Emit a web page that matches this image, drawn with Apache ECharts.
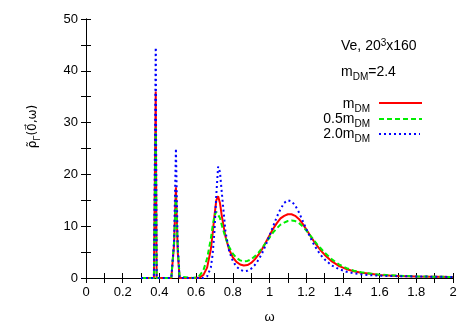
<!DOCTYPE html>
<html>
<head>
<meta charset="utf-8">
<script src="https://cdn.jsdelivr.net/npm/echarts@6/dist/echarts.min.js"></script>
<style>html,body{margin:0;padding:0;background:#fff}#c{width:466px;height:327px}</style>
</head>
<body>
<div id="c"></div>
<script>
// omega grid shared by all series
const omega = [0.30,0.37,0.375,0.38,0.385,0.39,0.465,0.48,0.49,0.50,0.51,0.58,0.60,0.62,0.64,0.66,0.68,0.69,0.70,0.71,0.72,0.73,0.74,0.76,0.78,0.80,0.82,0.84,0.86,0.88,0.90,0.92,0.94,0.96,0.98,1.00,1.02,1.04,1.06,1.08,1.10,1.12,1.14,1.16,1.18,1.20,1.22,1.24,1.26,1.28,1.30,1.34,1.38,1.42,1.46,1.50,1.55,1.60,1.70,1.80,1.90,2.00];
const rhoM   = [0,0,0,36.0,0,0,0,6.5,17.5,5.0,0,0,0,0.1,0.6,2.0,5.5,8.5,12.0,15.0,15.8,14.5,12.0,8.0,5.5,4.0,3.1,2.6,2.4,2.5,2.9,3.6,4.5,5.6,6.9,8.2,9.5,10.6,11.5,12.0,12.3,12.3,12.0,11.4,10.5,9.4,8.3,7.2,6.2,5.3,4.5,3.2,2.3,1.7,1.3,1.0,0.8,0.6,0.4,0.3,0.25,0.2];
const rhoHalf= [0,0,0,29.0,0,0,0,7.0,16.0,6.0,0.3,0,0.1,0.5,1.5,3.8,7.5,10.0,12.0,12.8,12.6,11.6,10.2,7.8,6.0,4.7,3.9,3.4,3.2,3.3,3.6,4.2,4.9,5.8,6.8,7.8,8.8,9.6,10.3,10.7,11.0,11.1,11.0,10.6,10.0,9.2,8.3,7.4,6.5,5.7,4.9,3.6,2.6,1.9,1.4,1.1,0.85,0.65,0.45,0.3,0.25,0.2];
const rhoTwo = [0,0,0,44.5,0,0,0,7.0,25.0,6.0,0,0,0,0,0,0.3,2.0,4.5,9.0,16.0,21.5,20.5,16.5,9.0,5.2,3.3,2.2,1.6,1.3,1.4,1.8,2.5,3.5,4.8,6.4,8.2,10.0,11.8,13.3,14.5,15.0,14.8,14.0,12.7,11.1,9.5,8.0,6.6,5.4,4.4,3.6,2.4,1.7,1.2,0.9,0.7,0.55,0.45,0.35,0.3,0.25,0.2];
const xTicks = {min:0, max:2, interval:0.2};
const yTicks = {min:0, max:50, interval:10};

const pair = arr => omega.map((w,i)=>[w,arr[i]]);
const FONT = 'Liberation Sans';
const chart = echarts.init(document.getElementById('c'), null, {renderer:'canvas'});
const axisCommon = {
  axisLine:{show:true,lineStyle:{color:'#000',width:1}},
  axisTick:{show:true,inside:true,length:5,lineStyle:{color:'#000'}},
  minorTick:{show:true,splitNumber:2,length:5,lineStyle:{color:'#000'}},
  splitLine:{show:false}
};
const sub = {fontSize:10,fontFamily:FONT,color:'#000',verticalAlign:'bottom',lineHeight:20};
const base = {fontSize:14,fontFamily:FONT,color:'#000',lineHeight:16};
const nb = {fontSize:12,fontFamily:'DejaVu Sans',color:'#000',lineHeight:16};
const ns = {fontSize:9,fontFamily:'DejaVu Sans',color:'#000',verticalAlign:'bottom',lineHeight:19};
chart.setOption({
  animation:false,
  backgroundColor:'#fff',
  grid:{left:86,right:13,top:19,bottom:49,containLabel:false,outerBoundsMode:'none'},
  xAxis:[
    Object.assign({type:'value',position:'bottom',min:xTicks.min,max:xTicks.max,interval:xTicks.interval,
      axisLabel:{color:'#000',fontSize:13,fontFamily:FONT,margin:8},
      name:'ω',nameLocation:'middle',nameGap:33,nameTextStyle:{color:'#000',fontSize:13,fontFamily:FONT}},axisCommon),
    Object.assign({type:'value',position:'top',min:xTicks.min,max:xTicks.max,interval:xTicks.interval,axisLabel:{show:false}},axisCommon)
  ],
  yAxis:[
    Object.assign({type:'value',position:'left',min:yTicks.min,max:yTicks.max,interval:yTicks.interval,
      axisLabel:{color:'#000',fontSize:13,fontFamily:FONT,margin:8},
      name:'{r|ρ̃}{s|Γ}{r|(0⃗,ω)}',nameLocation:'middle',nameGap:44,nameRotate:90,
      nameTextStyle:{padding:[0,0,0,44],rich:{r:nb,s:ns}}},axisCommon),
    Object.assign({type:'value',position:'right',min:yTicks.min,max:yTicks.max,interval:yTicks.interval,axisLabel:{show:false}},axisCommon)
  ],
  series:[
    {name:'m',type:'line',showSymbol:false,data:pair(rhoM),lineStyle:{color:'#ff0000',width:2,type:'solid'},itemStyle:{color:'#ff0000'}},
    {name:'0.5m',type:'line',showSymbol:false,data:pair(rhoHalf),lineStyle:{color:'#00ee00',width:2,type:[5,3]},itemStyle:{color:'#00ee00'}},
    {name:'2.0m',type:'line',showSymbol:false,data:pair(rhoTwo),lineStyle:{color:'#0000ff',width:2,type:[2,3]},itemStyle:{color:'#0000ff'}}
  ],
  graphic:[
    {type:'text',x:341,y:46,style:{text:'{r|Ve, 20}{p|3}{r|x160}',verticalAlign:'middle',rich:{r:base,p:{fontSize:10,fontFamily:FONT,color:'#000',verticalAlign:'top',lineHeight:16}}}},
    {type:'text',x:341,y:72,style:{text:'{r|m}{s|DM}{r|=2.4}',verticalAlign:'middle',rich:{r:base,s:sub}}},
    {type:'text',x:370,y:104,style:{text:'{r|m}{s|DM}',align:'right',verticalAlign:'middle',rich:{r:base,s:sub}}},
    {type:'text',x:370,y:119,style:{text:'{r|0.5m}{s|DM}',align:'right',verticalAlign:'middle',rich:{r:base,s:sub}}},
    {type:'text',x:370,y:134,style:{text:'{r|2.0m}{s|DM}',align:'right',verticalAlign:'middle',rich:{r:base,s:sub}}},
    {type:'line',shape:{x1:379,y1:103,x2:422,y2:103},style:{stroke:'#ff0000',lineWidth:2}},
    {type:'line',shape:{x1:379,y1:119,x2:422,y2:119},style:{stroke:'#00ee00',lineWidth:2,lineDash:[5,3]}},
    {type:'line',shape:{x1:379,y1:134,x2:420,y2:134},style:{stroke:'#0000ff',lineWidth:2,lineDash:[2,3]}}
  ]
});
</script>
</body>
</html>
